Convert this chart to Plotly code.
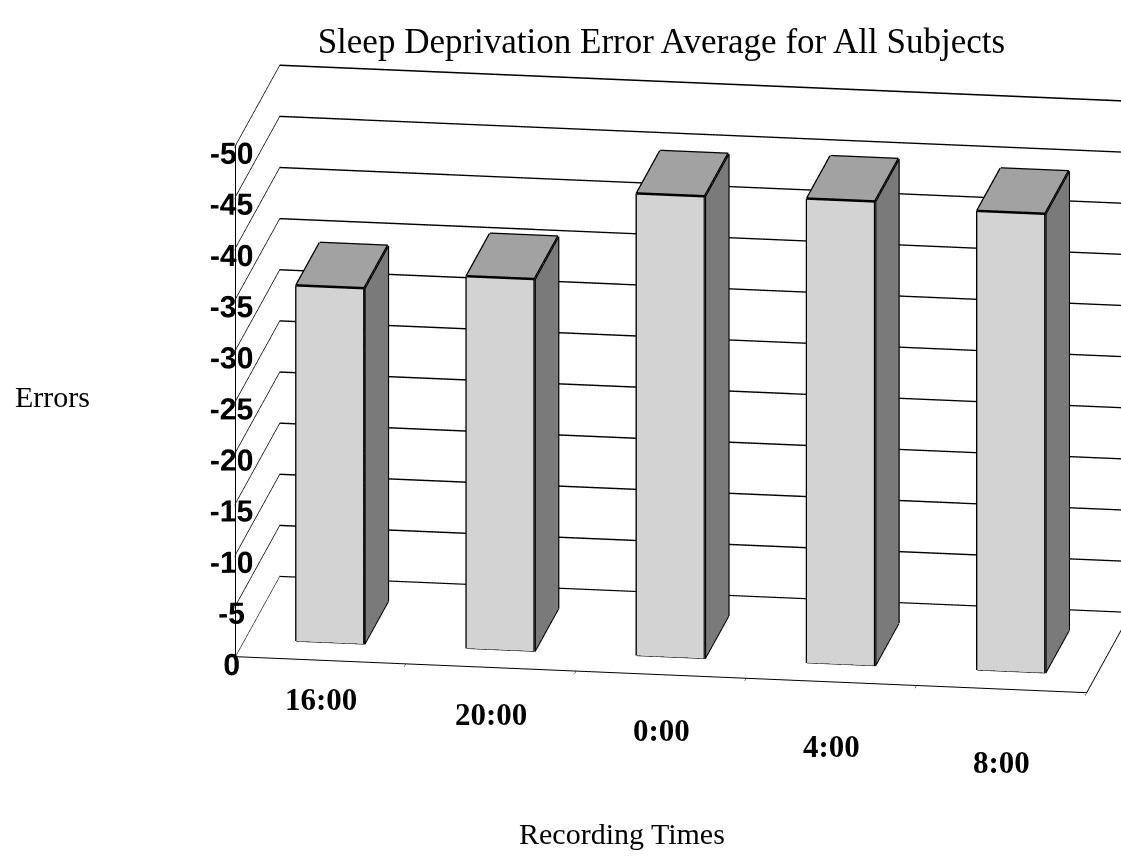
import plotly.graph_objects as go

categories = ["16:00", "20:00", "0:00", "4:00", "8:00"]
errors = [-34.8, -36.4, -45.2, -45.4, -44.9]
z_ticks = [0, -5, -10, -15, -20, -25, -30, -35, -40, -45, -50]

title = "Sleep Deprivation Error Average for All Subjects"
x_title = "Recording Times"
y_title = "Errors"

FRONT = "#d3d3d3"
TOP = "#a2a2a2"
SIDE = "#7a7a7a"

half_w = 0.2
y0, y1 = 0.22, 0.75

xs, ys, zs = [], [], []
I, J, K, fcol = [], [], [], []
ex, ey, ez = [], [], []
for idx, v in enumerate(errors):
    cx = idx + 1
    h = -v
    xa, xb = cx - half_w, cx + half_w
    base = len(xs)
    corners = [(xa, y0, 0), (xb, y0, 0), (xb, y1, 0), (xa, y1, 0),
               (xa, y0, h), (xb, y0, h), (xb, y1, h), (xa, y1, h)]
    for (a, b, c) in corners:
        xs.append(a); ys.append(b); zs.append(c)
    faces = [
        ((0, 1, 5), FRONT), ((0, 5, 4), FRONT),
        ((4, 5, 6), TOP), ((4, 6, 7), TOP),
        ((1, 2, 6), SIDE), ((1, 6, 5), SIDE),
        ((0, 3, 7), SIDE), ((0, 7, 4), SIDE),
        ((3, 2, 6), FRONT), ((3, 6, 7), FRONT),
        ((0, 1, 2), TOP), ((0, 2, 3), TOP),
    ]
    for (a, b, c), col in faces:
        I.append(base + a); J.append(base + b); K.append(base + c); fcol.append(col)
    edges = [(0, 1), (1, 5), (5, 4), (4, 0), (4, 7), (7, 6), (6, 5), (1, 2), (2, 6)]
    for a, b in edges:
        pa, pb = corners[a], corners[b]
        ex += [pa[0], pb[0], None]
        ey += [pa[1], pb[1], None]
        ez += [pa[2], pb[2], None]

fig = go.Figure()
fig.add_trace(go.Mesh3d(
    x=xs, y=ys, z=zs, i=I, j=J, k=K, facecolor=fcol, flatshading=True,
    lighting=dict(ambient=1, diffuse=0, specular=0, roughness=1, fresnel=0),
    hoverinfo="skip", showscale=False,
))
fig.add_trace(go.Scatter3d(
    x=ex, y=ey, z=ez, mode="lines", line=dict(color="black", width=5),
    hoverinfo="skip", showlegend=False,
))

axis_common = dict(showspikes=False, zeroline=False, backgroundcolor="white",
                   showbackground=True, linecolor="black", linewidth=2)

k = 2.0 / 3.0
cx0, cz0 = -0.4515 * k + 0.0126, -0.2044 * k + 0.0163 - 0.0172
view = (0.55, -3.6, 1.05)
boundaries = [i + 0.5 for i in range(len(categories) + 1)]

cat_annotations = [
    dict(x=i + 1, y=0, z=0, text="<b>" + c + "</b>", showarrow=False,
         yshift=-39 - 8.5 * i,
         font=dict(family="Liberation Serif", size=31, color="black"))
    for i, c in enumerate(categories)
]

fig.update_layout(
    width=1121, height=861,
    paper_bgcolor="white",
    margin=dict(l=0, r=0, t=0, b=0),
    showlegend=False,
    title=dict(text=title, x=0.59, y=0.953, xanchor="center", yanchor="middle",
               font=dict(family="Liberation Serif", size=35, color="black")),
    scene=dict(
        domain=dict(x=[0.0, 1.0], y=[0.0, 1.0]),
        xaxis=dict(axis_common, range=[0.5, 5.5], tickvals=boundaries,
                   ticktext=["" for _ in boundaries], title=dict(text=""), showgrid=False,
                   ticks="outside", ticklen=14, tickcolor="black", tickwidth=1),
        yaxis=dict(axis_common, range=[0, 1], showticklabels=False, title=dict(text=""),
                   showgrid=False),
        zaxis=dict(axis_common, range=[0, 50], tickvals=[-t for t in z_ticks],
                   ticktext=[str(t) for t in z_ticks], title=dict(text=""), tickangle=0,
                   ticks="outside", ticklen=8, tickcolor="black", tickwidth=1,
                   showgrid=True, gridcolor="black", gridwidth=3,
                   tickfont=dict(family="Liberation Sans", size=19, color="black", weight="bold")),
        aspectmode="manual",
        aspectratio=dict(x=3.0 * k, y=1.02 * k, z=1.854 * k),
        camera=dict(eye=dict(x=cx0 + view[0], y=view[1], z=cz0 + view[2]),
                    center=dict(x=cx0, y=0, z=cz0),
                    projection=dict(type="orthographic")),
        annotations=cat_annotations,
    ),
    annotations=[
        dict(text=y_title, x=52 / 1121, y=1 - 396 / 861, xref="paper", yref="paper",
             showarrow=False, xanchor="center", yanchor="middle",
             font=dict(family="Liberation Serif", size=30, color="black")),
        dict(text=x_title, x=622 / 1121, y=1 - 833 / 861, xref="paper", yref="paper",
             showarrow=False, xanchor="center", yanchor="middle",
             font=dict(family="Liberation Serif", size=30, color="black")),
    ],
)
fig.write_html("out.html")
